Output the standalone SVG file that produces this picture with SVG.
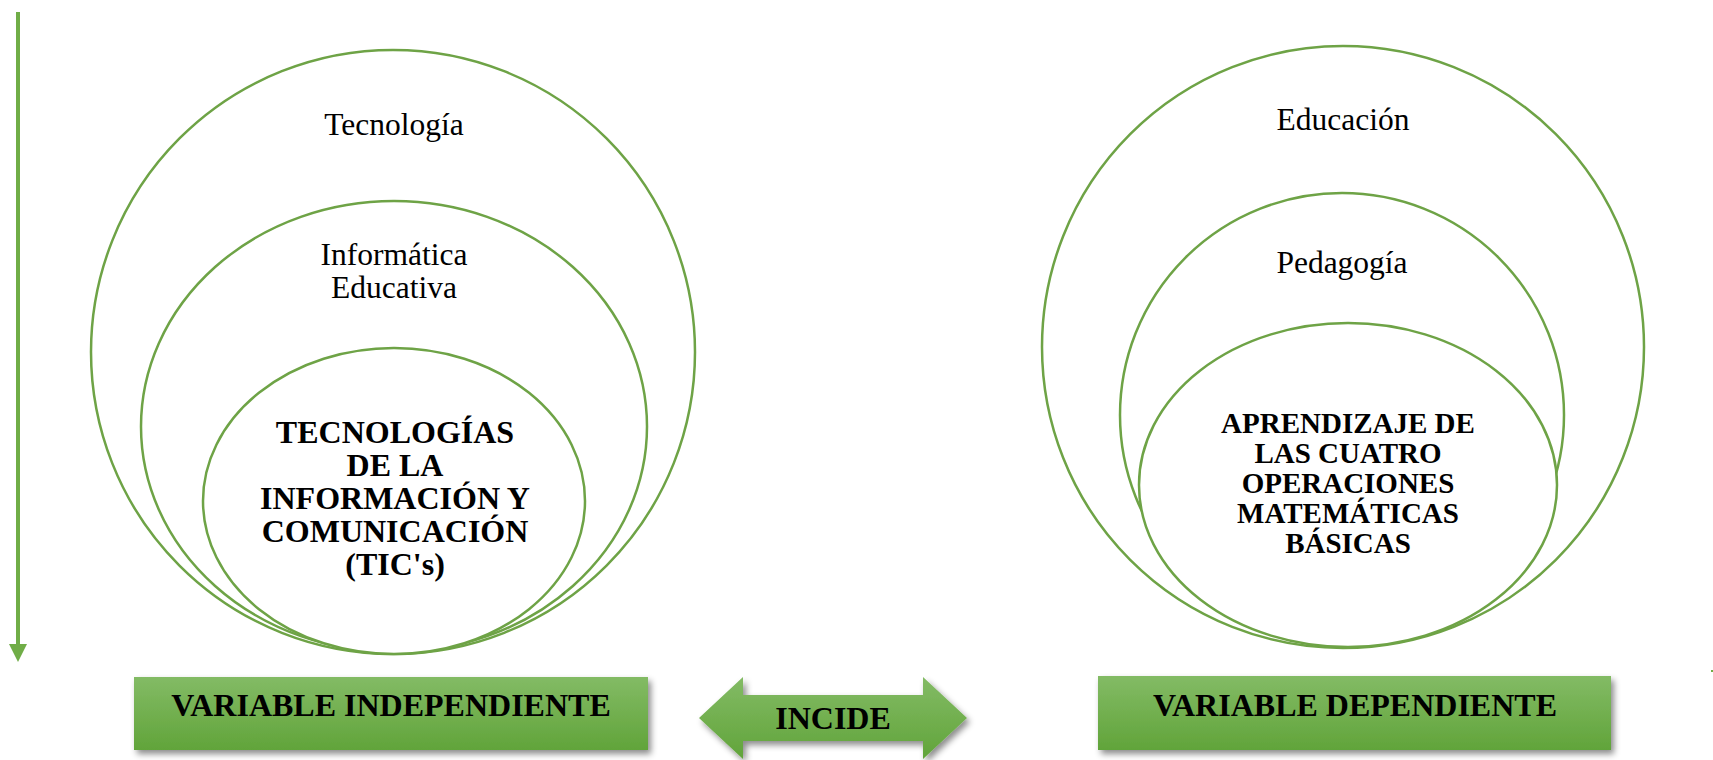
<svg xmlns="http://www.w3.org/2000/svg" width="1713" height="760" viewBox="0 0 1713 760">
<defs>
<linearGradient id="gf" x1="0" y1="0" x2="0" y2="1">
<stop offset="0" stop-color="#83bb65"/>
<stop offset="1" stop-color="#61a43a"/>
</linearGradient>
<filter id="sh" x="-5%" y="-20%" width="115%" height="150%">
<feDropShadow dx="3" dy="4" stdDeviation="3" flood-color="#000" flood-opacity="0.45"/>
</filter>
<marker id="ah" markerWidth="4.5" markerHeight="4.5" refX="0.5" refY="2.25" orient="auto" markerUnits="strokeWidth">
<path d="M0,0 L4.5,2.25 L0,4.5 Z" fill="#70ad47"/>
</marker>
</defs>
<style>
.c{fill:#fff;stroke:#6ea346;stroke-width:2.5}
.n{font-family:"Liberation Serif","Times New Roman",serif;font-size:31.5px;fill:#000;text-anchor:middle}
.b{font-family:"Liberation Serif","Times New Roman",serif;font-weight:bold;fill:#000;text-anchor:middle}
.box{fill:url(#gf);filter:url(#sh)}
</style>
<rect width="1713" height="760" fill="#fff"/>
<g id="connectors">
<line x1="18" y1="12" x2="18" y2="646" stroke="#70ad47" stroke-width="4" marker-end="url(#ah)"/>
<rect x="1711" y="670" width="2" height="2" fill="#70ad47"/>
</g>
<g id="tecnologia">
<circle class="c" cx="393" cy="352" r="302"/>
<text class="n" x="394" y="135">Tecnología</text>
</g>
<g id="informatica">
<ellipse class="c" cx="394" cy="426.5" rx="253" ry="225.5"/>
<text class="n" x="394" y="265">Informática</text>
<text class="n" x="394" y="298">Educativa</text>
</g>
<g id="tics">
<ellipse class="c" cx="394" cy="501" rx="191" ry="153"/>
<text class="b" font-size="32" x="395"><tspan x="395" y="443">TECNOLOGÍAS</tspan><tspan x="395" y="476">DE LA</tspan><tspan x="395" y="509">INFORMACIÓN Y</tspan><tspan x="395" y="542">COMUNICACIÓN</tspan><tspan x="395" y="575">(TIC's)</tspan></text>
</g>
<g id="educacion">
<circle class="c" cx="1343" cy="347" r="301"/>
<text class="n" x="1343" y="130">Educación</text>
</g>
<g id="pedagogia">
<circle class="c" cx="1342" cy="415" r="222"/>
<text class="n" x="1342" y="273">Pedagogía</text>
</g>
<g id="aprendizaje">
<ellipse class="c" cx="1348" cy="485" rx="209" ry="162"/>
<text class="b" font-size="29"><tspan x="1348" y="433">APRENDIZAJE DE</tspan><tspan x="1348" y="463">LAS CUATRO</tspan><tspan x="1348" y="493">OPERACIONES</tspan><tspan x="1348" y="523">MATEMÁTICAS</tspan><tspan x="1348" y="553">BÁSICAS</tspan></text>
</g>
<g id="var-independiente">
<rect class="box" x="134" y="677" width="514" height="73"/>
<text class="b" font-size="32" x="391" y="716">VARIABLE INDEPENDIENTE</text>
</g>
<g id="incide">
<path class="box" d="M699,718 L743,677 L743,695 L923,695 L923,677 L967,718 L923,759 L923,741 L743,741 L743,759 Z"/>
<text class="b" font-size="32" x="833" y="729">INCIDE</text>
</g>
<g id="var-dependiente">
<rect class="box" x="1098" y="676" width="513" height="74"/>
<text class="b" font-size="32" x="1355" y="716">VARIABLE DEPENDIENTE</text>
</g>
</svg>
